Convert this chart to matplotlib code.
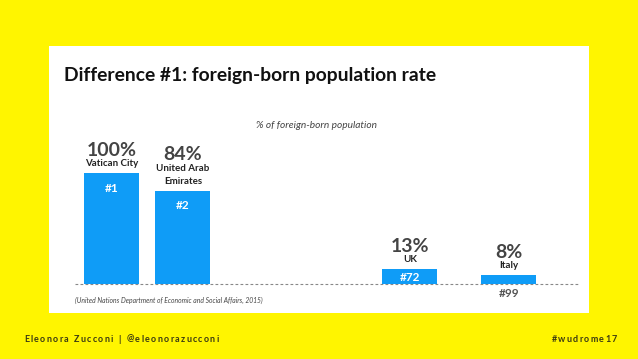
import matplotlib
matplotlib.use("Agg")
import matplotlib.pyplot as plt
from matplotlib.patches import Rectangle

# data
countries = ["Vatican City", "United Arab\nEmirates", "UK", "Italy"]
values = [100, 84, 13, 8]
ranks = ["#1", "#2", "#72", "#99"]

# layout (pixel-ish slots, not data)
bar_x = [112, 183, 410, 509]
bar_w = 55

W, H = 638, 359
YELLOW = "#fff500"
BLUE = "#0f9cf7"
GREY = "#444444"
FONT = "Lato"

fig = plt.figure(figsize=(W / 100, H / 100), dpi=100)
fig.patch.set_facecolor(YELLOW)

def fx(px): return px / W
def fy(py): return 1 - py / H

# white panel
fig.patches.append(Rectangle((fx(49), fy(313)), fx(589) - fx(49), fy(46) - fy(313),
                             transform=fig.transFigure, facecolor="white", edgecolor="none", zorder=-1))

fig.text(fx(64), fy(76), "Difference #1: foreign-born population rate", fontsize=13.9,
         fontweight="bold", family=FONT, color="#111111", va="center", ha="left")
fig.text(fx(317), fy(125), "% of foreign-born population", fontsize=7.3, style="italic",
         family=FONT, color=GREY, ha="center", va="center")
fig.text(fx(75), fy(300), "(United Nations Department of Economic and Social Affairs, 2015)",
         fontsize=4.9, style="italic", family=FONT, color=GREY, ha="left", va="center")

# axes: baseline at y=283.5px, 100% at y=173px
ax = fig.add_axes([fx(75), fy(283.5), fx(578) - fx(75), fy(173) - fy(283.5)])
ax.set_zorder(1)
ax.set_xlim(75, 578)
ax.set_ylim(0, 100)
ax.axis("off")

ax.bar(bar_x, values, width=bar_w, color=BLUE, zorder=2)
ax.plot([75, 578], [0, 0], color="#888888", lw=0.8, ls=(0, (2.5, 2)), zorder=1, clip_on=False)

for x, v, c, r in zip(bar_x, values, countries, ranks):
    nlines = c.count("\n") + 1
    ax.annotate(c, (x, v), xytext=(0, 7), textcoords="offset pixels", ha="center",
                va="baseline", fontsize=7, fontweight="bold", family=FONT, color="#222222",
                linespacing=1.55, annotation_clip=False)
    ax.annotate(f"{v}%", (x, v), xytext=(0, 17 + 14 * (nlines - 1)), textcoords="offset pixels",
                ha="center", va="baseline", fontsize=14, fontweight="bold", family=FONT,
                color=GREY, annotation_clip=False)
    if v >= 10:
        ax.annotate(r, (x, v), xytext=(0, -15 if v > 50 else -8), textcoords="offset pixels",
                    ha="center", va="center", fontsize=8.5, fontweight="bold", family=FONT,
                    color="white", annotation_clip=False)
    else:
        ax.annotate(r, (x, 0), xytext=(0, -10), textcoords="offset pixels", ha="center",
                    va="center", fontsize=8.5, fontweight="bold", family=FONT,
                    color="#555555", annotation_clip=False)

# footer with letter spacing
renderer = fig.canvas.get_renderer()

def spaced(x, y, s, spacing, ha="left", **kw):
    widths = []
    for ch in s:
        t = fig.text(0, 0, ch if ch != " " else "a", **kw)
        bb = t.get_window_extent(renderer)
        widths.append(bb.width * (0.6 if ch == " " else 1))
        t.remove()
    total = sum(widths) + spacing * (len(s) - 1)
    cur = x if ha == "left" else x - total
    for ch, w in zip(s, widths):
        if ch != " ":
            fig.text(fx(cur), fy(y), ch, ha="left", va="center", **kw)
        cur += w + spacing

foot = dict(fontsize=6.5, fontweight="bold", family=FONT, color="#3a3a12")
spaced(24, 339, "Eleonora Zucconi | @eleonorazucconi", 1.3, **foot)
spaced(617, 339, "#wudrome17", 1.3, ha="right", **foot)

fig.savefig("out.png", dpi=100, facecolor=YELLOW)
